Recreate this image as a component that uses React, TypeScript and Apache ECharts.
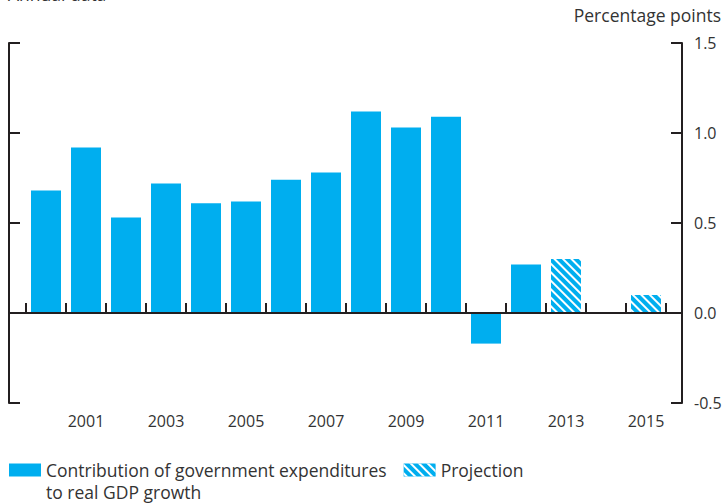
import React, { useEffect, useRef } from "react";
import * as echarts from "echarts";

const years = [2000, 2001, 2002, 2003, 2004, 2005, 2006, 2007, 2008, 2009, 2010, 2011, 2012];
const actualValues = [0.68, 0.92, 0.53, 0.72, 0.61, 0.62, 0.74, 0.78, 1.12, 1.03, 1.09, -0.17, 0.27];
const projectionYears = [2013, 2015];
const projectionValues = [0.3, 0.1];
const tickBoundaries = [1999.5, 2000.5, 2001.5, 2002.5, 2003.5, 2004.5, 2005.5, 2006.5, 2007.5, 2008.5, 2009.5, 2010.5, 2011.5, 2012.5, 2013.5, 2014.5, 2015.5];
const labelYears = [2001, 2003, 2005, 2007, 2009, 2011, 2013, 2015];

const BLUE = "#00AEEF";
const INK = "#231F20";
const TEXT = "#333333";
const FONT = "'Open Sans', 'Liberation Sans', Arial, sans-serif";

const SERIES1 = "Contribution of government expenditures";
const SERIES2 = "Projection";

export default function App() {
  const ref = useRef<HTMLDivElement>(null);
  useEffect(() => {
    document.body.style.margin = "0";
    if (!ref.current) return;
    const chart = echarts.init(ref.current, undefined, { renderer: "svg" });
    const hatch = {
      symbol: "rect",
      symbolSize: 1,
      color: "#ffffff",
      dashArrayX: [1, 0],
      dashArrayY: [1.6, 3.4],
      rotation: Math.PI / 4,
    };
    chart.setOption({
      animation: false,
      textStyle: { fontFamily: FONT },
      grid: { left: 9, right: 41, top: 43, bottom: 100, containLabel: false, outerBoundsMode: "none" },
      xAxis: {
        type: "value",
        min: 1999.075,
        max: 2015.9,
        splitLine: { show: false },
        axisLine: { show: true, lineStyle: { color: INK, width: 2 } },
        axisTick: {
          show: true,
          inside: true,
          length: 10,
          customValues: tickBoundaries,
          lineStyle: { color: INK, width: 2 },
        },
        axisLabel: {
          show: true,
          customValues: labelYears,
          formatter: (v: number) => String(v),
          color: TEXT,
          fontSize: 16,
          margin: 10,
          fontFamily: FONT,
        },
      },
      yAxis: [
        {
          type: "value",
          position: "right",
          min: -0.5,
          max: 1.5,
          interval: 0.5,
          splitLine: { show: false },
          axisLine: { show: true, lineStyle: { color: INK, width: 2 } },
          axisTick: { show: true, inside: true, length: 11, lineStyle: { color: INK, width: 2 } },
          axisLabel: {
            color: TEXT,
            fontSize: 16,
            margin: 12,
            fontFamily: FONT,
            formatter: (v: number) => v.toFixed(1),
          },
        },
        {
          type: "value",
          position: "left",
          min: -0.5,
          max: 1.5,
          interval: 0.5,
          splitLine: { show: false },
          axisLine: { show: true, lineStyle: { color: INK, width: 2 } },
          axisTick: { show: true, inside: true, length: 11, lineStyle: { color: INK, width: 2 } },
          axisLabel: { show: false },
        },
      ],
      legend: {
        left: 9,
        top: 460,
        padding: 0,
        itemWidth: 32,
        itemHeight: 13,
        itemGap: 17,
        icon: "rect",
        selectedMode: false,
        textStyle: { color: TEXT, fontSize: 17.5, lineHeight: 20, fontFamily: FONT },
        data: [SERIES1, SERIES2],
      },
      graphic: [
        {
          type: "text",
          left: 8,
          top: -15,
          style: { text: "Annual data", fill: TEXT, fontSize: 17.5, fontFamily: FONT },
        },
        {
          type: "text",
          right: 2,
          top: 6,
          style: { text: "Percentage points", fill: TEXT, fontSize: 17.5, fontFamily: FONT },
        },
        {
          type: "text",
          left: 46,
          top: 482,
          style: { text: "to real GDP growth", fill: TEXT, fontSize: 17.5, lineHeight: 20, fontFamily: FONT },
        },
      ],
      series: [
        {
          name: SERIES1,
          type: "bar",
          yAxisIndex: 0,
          barWidth: 30,
          barGap: "-100%",
          itemStyle: { color: BLUE },
          data: years.map((y, i) => [y, actualValues[i]]),
          markLine: {
            silent: true,
            symbol: "none",
            label: { show: false },
            lineStyle: { color: INK, width: 2, type: "solid" },
            data: [{ yAxis: 0 }],
          },
        },
        {
          name: SERIES2,
          type: "bar",
          yAxisIndex: 0,
          barWidth: 30,
          barGap: "-100%",
          itemStyle: { color: BLUE, decal: hatch },
          data: projectionYears.map((y, i) => [y, projectionValues[i]]),
        },
      ],
    });
    return () => chart.dispose();
  }, []);
  return <div ref={ref} style={{ width: 723, height: 503 }} />;
}
